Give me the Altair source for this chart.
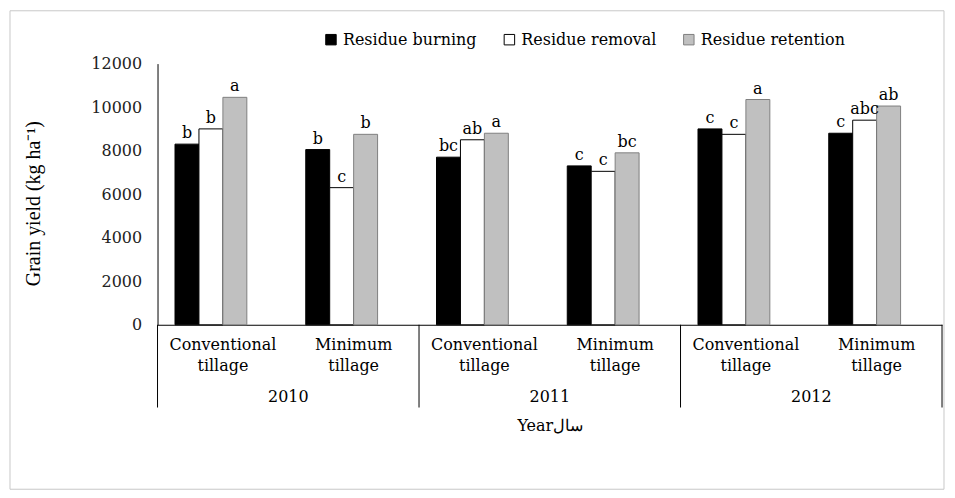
import altair as alt
import pandas as pd

years = ["2010", "2010", "2011", "2011", "2012", "2012"]
tillage = ["Conventional tillage", "Minimum tillage"] * 3
tillage_labels = ["Conventional\ntillage", "Minimum\ntillage"] * 3
year_list = ["2010", "2011", "2012"]
series_names = ["Residue burning", "Residue removal", "Residue retention"]
burning = [8300, 8050, 7700, 7300, 9000, 8800]
removal = [9000, 6300, 8500, 7050, 8750, 9400]
retention = [10450, 8750, 8800, 7900, 10350, 10050]
burning_letters = ["b", "b", "bc", "c", "c", "c"]
removal_letters = ["b", "c", "ab", "c", "c", "abc"]
retention_letters = ["a", "b", "a", "bc", "a", "ab"]
y_ticks = [0, 2000, 4000, 6000, 8000, 10000, 12000]

FONT = "DejaVu Serif"
FS = 16
W, H = 787, 262

cats = [f"{y}|{t}" for y, t in zip(years, tillage)]
rows = []
for i, c in enumerate(cats):
    for s, vals, labs in zip(series_names, [burning, removal, retention],
                             [burning_letters, removal_letters, retention_letters]):
        rows.append(dict(cat=c, series=s, value=vals[i], letter=labs[i]))
df = pd.DataFrame(rows)
cat_df = pd.DataFrame({"cat": cats, "label": tillage_labels})
year_df = pd.DataFrame({"year": year_list})

offset_domain = series_names + ["_"]

xcat = alt.X("cat:N", scale=alt.Scale(domain=cats, paddingInner=0, paddingOuter=0),
             axis=None)
xoff = alt.XOffset("series:N", scale=alt.Scale(domain=offset_domain, paddingInner=0, paddingOuter=0.73))
yval = alt.Y("value:Q", scale=alt.Scale(domain=[0, 12000], nice=False),
             axis=alt.Axis(values=y_ticks, format="d", ticks=False, grid=False, domainColor="black",
                           labelFont=FONT, labelFontSize=FS, labelColor="#222222", labelPadding=16,
                           title="Grain yield (kg ha\u207b\u00b9)", titleFont="Liberation Serif",
                           titleFontSize=20, titleFontWeight="normal", titleColor="black",
                           titlePadding=48, titleY=140))

bars = alt.Chart(df).mark_bar(strokeWidth=1).encode(
    x=alt.X("cat:N", scale=alt.Scale(domain=cats, paddingInner=0, paddingOuter=0),
            axis=alt.Axis(labels=False, ticks=False, domainColor="black", title="Yearسال",
                          titleFont=FONT, titleFontSize=FS, titleFontWeight="normal",
                          titleColor="black", titlePadding=93)),
    xOffset=xoff,
    y=yval,
    fill=alt.Fill("series:N", scale=alt.Scale(domain=series_names, range=["black", "white", "#c0c0c0"]),
                  legend=alt.Legend(title=None, orient="none", legendX=166, legendY=-32,
                                    direction="horizontal", symbolType="square", symbolSize=110,
                                    symbolStrokeColor="black", symbolStrokeWidth=1,
                                    labelFont=FONT, labelFontSize=FS, labelColor="black",
                                    columnPadding=24, labelOffset=4)),
    stroke=alt.Stroke("series:N", scale=alt.Scale(domain=series_names, range=["black", "black", "#7f7f7f"]),
                      legend=None),
)

letters = alt.Chart(df).mark_text(baseline="bottom", dy=-3, font=FONT, fontSize=FS, color="black").encode(
    x=xcat, xOffset=xoff, y=alt.Y("value:Q", scale=alt.Scale(domain=[0, 12000], nice=False)),
    text="letter:N",
)

till_text = alt.Chart(cat_df).mark_text(baseline="top", font=FONT, fontSize=FS, color="black",
                                        lineBreak="\n", lineHeight=21).encode(
    x=xcat, y=alt.value(274), text="label:N",
)

year_text = alt.Chart(year_df).mark_text(baseline="middle", font=FONT, fontSize=FS, color="black").encode(
    x=alt.X("year:N", scale=alt.Scale(domain=year_list, paddingInner=0, paddingOuter=0), axis=None),
    y=alt.value(334), text="year:N",
)

seps = alt.Chart(year_df).mark_rule(color="black", strokeWidth=1).encode(
    x=alt.X("year:N", bandPosition=0, scale=alt.Scale(domain=year_list, paddingInner=0, paddingOuter=0), axis=None),
    y=alt.value(H), y2=alt.value(345),
)

end_rule = alt.Chart(alt.Data(values=[{}])).mark_rule(color="black", strokeWidth=1).encode(
    x=alt.value(W), y=alt.value(H), y2=alt.value(345),
)

frame = alt.Chart(alt.Data(values=[{}])).mark_rect(fillOpacity=0, stroke="#c8c8c8", strokeWidth=1).encode(
    x=alt.value(-148), x2=alt.value(789), y=alt.value(-53), y2=alt.value(427),
)

chart = alt.layer(frame, bars, letters, till_text, year_text, seps, end_rule).resolve_scale(
    x="independent"
).properties(
    width=W, height=H, autosize="none",
    padding={"left": 150, "top": 55, "right": 5, "bottom": 170},
).configure_view(strokeWidth=0)

chart.save("out.html", embed_options={"renderer": "svg", "actions": False})
